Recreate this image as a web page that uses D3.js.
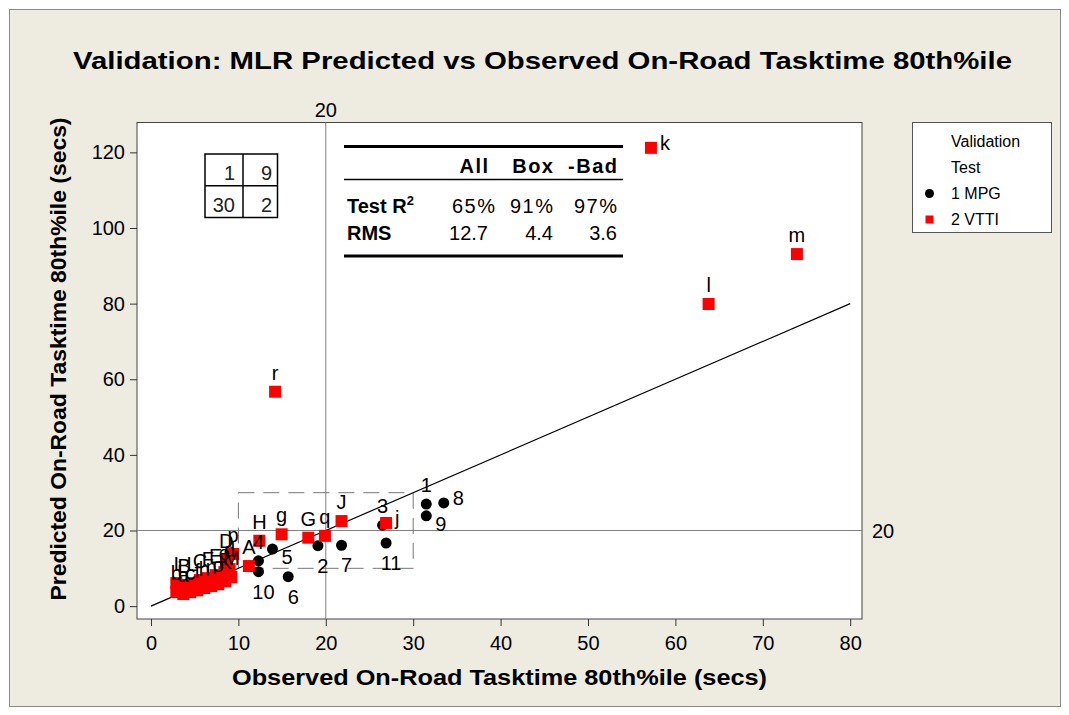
<!DOCTYPE html>
<meta charset="utf-8">
<style>
body { margin: 0; background: #fff; }
svg text { font-family: "Liberation Sans", Arial, sans-serif; fill: #000; }
.axis path.domain { display: none; }
.axis line { stroke: #333; }
.axis text { font-size: 20px; }
</style>
<svg width="1069" height="715"></svg>
<script src="https://d3js.org/d3.v7.min.js"></script>
<script>

// 1 MPG points (black circles)
var mpgLabels    = ["1", "2", "3", "4", "5", "6", "7", "8", "9", "10", "11"];
var mpgObserved  = [31.5, 19.1, 26.5, 12.3, 13.9, 15.7, 21.8, 33.5, 31.5, 12.3, 26.9];
var mpgPredicted = [27.0, 16.0, 21.4, 12.0, 15.1, 7.8, 16.1, 27.3, 23.9, 9.1, 16.7];

// 2 VTTI points (red squares)
var vttiLabels    = ["A", "B", "C", "D", "E", "F", "G", "H", "I", "J", "K", "L", "M",
                     "a", "b", "c", "d", "e", "f", "g", "h", "i", "j", "k", "l", "m", "n", "o", "p", "q", "r"];
var vttiObserved  = [11.2, 3.8, 5.6, 8.6, 7.4, 6.5, 18.0, 12.4, 2.9, 21.8, 8.5, 4.7, 9.2,
                     3.7, 2.9, 4.5, 9.0, 8.4, 5.3, 14.95, 6.1, 3.3, 26.9, 57.2, 63.8, 73.9, 6.9, 7.7, 9.4, 19.9, 14.2];
var vttiPredicted = [10.6, 5.6, 6.9, 12.2, 8.2, 7.4, 18.1, 17.3, 6.1, 22.5, 6.6, 6.1, 7.7,
                     3.2, 3.7, 3.7, 9.8, 9.0, 4.2, 19.0, 4.8, 4.8, 22.0, 121.2, 79.9, 93.1, 5.3, 5.8, 13.8, 18.6, 56.7];

// where the point label sits (a = above, r = right, br = below right, b = below)
var labelSide = { "1": "a", "2": "b", "3": "a", "4": "a", "5": "br", "6": "b", "7": "b",
                  "8": "r", "9": "br", "10": "b", "11": "b", "j": "r", "k": "r" };

var xTicks = [0, 10, 20, 30, 40, 50, 60, 70, 80];
var yTicks = [0, 20, 40, 60, 80, 100, 120];
var refValue = 20;
var boxRange = [10, 30];
var quadCounts = [[1, 9], [30, 2]];
var statCols = ["All", "Box", "-Bad"];
var statR2 = ["65%", "91%", "97%"];
var statRMS = ["12.7", "4.4", "3.6"];
var legendItems = ["1 MPG", "2 VTTI"];

var svg = d3.select("svg");

// page background and border
svg.append("rect").attr("x", 9.5).attr("y", 9.5).attr("width", 1051).attr("height", 697)
    .attr("fill", "#eeebe1").attr("stroke", "#8a8a8a");

var x = d3.scaleLinear().domain([-1.6, 81.35]).range([137, 862]);
var y = d3.scaleLinear().domain([-3.4, 127.9]).range([619, 122.5]);

// plot area
svg.append("rect").attr("x", 137).attr("y", 122.5).attr("width", 725).attr("height", 496.5)
    .attr("fill", "#fff").attr("stroke", "#444");

svg.append("g").attr("class", "axis").attr("transform", "translate(0,619)")
    .call(d3.axisBottom(x).tickValues(xTicks).tickSize(7).tickPadding(10));
svg.append("g").attr("class", "axis").attr("transform", "translate(137,0)")
    .call(d3.axisLeft(y).tickValues(yTicks).tickSize(7).tickPadding(5));

// reference lines at 20
svg.append("line").attr("x1", x(refValue)).attr("x2", x(refValue)).attr("y1", 122.5).attr("y2", 619)
    .attr("stroke", "#808080");
svg.append("line").attr("x1", 137).attr("x2", 862).attr("y1", y(refValue)).attr("y2", y(refValue))
    .attr("stroke", "#808080");
svg.append("text").attr("x", x(refValue)).attr("y", 117).attr("text-anchor", "middle")
    .style("font-size", "20px").text(refValue);
svg.append("text").attr("x", 872).attr("y", y(refValue) + 7)
    .style("font-size", "20px").text(refValue);

// dashed box 10..30
svg.append("rect").attr("x", x(boxRange[0])).attr("y", y(boxRange[1]))
    .attr("width", x(boxRange[1]) - x(boxRange[0])).attr("height", y(boxRange[0]) - y(boxRange[1]))
    .attr("fill", "none").attr("stroke", "#777").attr("stroke-dasharray", "16,9");

// y = x line
svg.append("line").attr("x1", x(0)).attr("y1", y(0)).attr("x2", x(80)).attr("y2", y(80))
    .attr("stroke", "#000").attr("stroke-width", 1.2);

var mpg = mpgLabels.map(function(l, i) { return { label: l, ox: mpgObserved[i], py: mpgPredicted[i] }; });
var vtti = vttiLabels.map(function(l, i) { return { label: l, ox: vttiObserved[i], py: vttiPredicted[i] }; });

svg.append("g").selectAll("circle").data(mpg).enter().append("circle")
    .attr("cx", function(d) { return x(d.ox); })
    .attr("cy", function(d) { return y(d.py); })
    .attr("r", 5.5).attr("fill", "#000");

svg.append("g").selectAll("rect").data(vtti).enter().append("rect")
    .attr("x", function(d) { return x(d.ox) - 6; })
    .attr("y", function(d) { return y(d.py) - 6; })
    .attr("width", 12).attr("height", 12).attr("fill", "#ff0000");

var sides = {
  a:  { anchor: "middle", dx: 0, dy: -12 },
  r:  { anchor: "start",  dx: 9, dy: 2 },
  br: { anchor: "start",  dx: 9, dy: 15 },
  b:  { anchor: "middle", dx: 5, dy: 27 }
};
svg.append("g").selectAll("text").data(mpg.concat(vtti)).enter().append("text")
    .each(function(d) {
      var s = sides[labelSide[d.label] || "a"];
      d3.select(this).attr("x", x(d.ox) + s.dx).attr("y", y(d.py) + s.dy).attr("text-anchor", s.anchor);
    })
    .style("font-size", "20px")
    .text(function(d) { return d.label; });

// quadrant count box
var qb = svg.append("g");
qb.append("rect").attr("x", 205).attr("y", 154).attr("width", 72.5).attr("height", 63.5)
    .attr("fill", "#fff").attr("stroke", "#000").attr("stroke-width", 1.5);
qb.append("line").attr("x1", 243).attr("x2", 243).attr("y1", 154).attr("y2", 217.5).attr("stroke", "#000").attr("stroke-width", 1.5);
qb.append("line").attr("x1", 205).attr("x2", 277.5).attr("y1", 185.7).attr("y2", 185.7).attr("stroke", "#000").attr("stroke-width", 1.5);
quadCounts.forEach(function(row, r) {
  row.forEach(function(v, c) {
    qb.append("text").attr("x", c ? 272 : 235).attr("y", r ? 211.5 : 180)
      .attr("text-anchor", "end").style("font-size", "20px").style("fill", "#222").text(v);
  });
});

// statistics table
var tb = svg.append("g");
var colRight = [488, 553, 617];
tb.append("line").attr("x1", 344).attr("x2", 623).attr("y1", 146.5).attr("y2", 146.5).attr("stroke", "#000").attr("stroke-width", 3);
tb.append("line").attr("x1", 344).attr("x2", 623).attr("y1", 179.5).attr("y2", 179.5).attr("stroke", "#000").attr("stroke-width", 1.5);
tb.append("line").attr("x1", 344).attr("x2", 623).attr("y1", 256).attr("y2", 256).attr("stroke", "#000").attr("stroke-width", 3);
statCols.forEach(function(c, i) {
  tb.append("text").attr("x", colRight[i] + 1.5).attr("y", 172.5).attr("text-anchor", "end")
    .style("font-size", "20px").style("font-weight", "bold").style("letter-spacing", "1.5px").text(c);
});
var r2 = tb.append("text").attr("x", 347).attr("y", 213).style("font-size", "20px").style("font-weight", "bold");
r2.append("tspan").text("Test R");
r2.append("tspan").attr("dy", -8).style("font-size", "13px").text("2");
tb.append("text").attr("x", 347).attr("y", 240).style("font-size", "20px").style("font-weight", "bold").text("RMS");
statR2.forEach(function(v, i) {
  tb.append("text").attr("x", colRight[i] + (i === 0 ? 7 : 0) + 1.5).attr("y", 213).attr("text-anchor", "end")
    .style("font-size", "20px").style("letter-spacing", "1.5px").text(v);
});
statRMS.forEach(function(v, i) {
  tb.append("text").attr("x", colRight[i]).attr("y", 240).attr("text-anchor", "end")
    .style("font-size", "20px").text(v);
});

// legend
var lg = svg.append("g");
lg.append("rect").attr("x", 912.5).attr("y", 122.5).attr("width", 139).attr("height", 110)
    .attr("fill", "#fff").attr("stroke", "#555");
lg.append("text").attr("x", 951).attr("y", 146.5).style("font-size", "16px").text("Validation");
lg.append("text").attr("x", 951).attr("y", 173).style("font-size", "16px").text("Test");
lg.append("circle").attr("cx", 929.5).attr("cy", 193.5).attr("r", 4.5).attr("fill", "#000");
lg.append("rect").attr("x", 925.5).attr("y", 215.5).attr("width", 8).attr("height", 8).attr("fill", "#ff0000");
legendItems.forEach(function(t, i) {
  lg.append("text").attr("x", 951).attr("y", 199 + i * 25.5).style("font-size", "16px").text(t);
});

// titles
svg.append("text").attr("x", 542.5).attr("y", 69).attr("text-anchor", "middle")
    .attr("textLength", 939).attr("lengthAdjust", "spacingAndGlyphs")
    .style("font-size", "24px").style("font-weight", "bold")
    .text("Validation: MLR Predicted vs Observed On-Road Tasktime 80th%ile");
svg.append("text").attr("x", 499.5).attr("y", 685).attr("text-anchor", "middle")
    .attr("textLength", 535).attr("lengthAdjust", "spacingAndGlyphs")
    .style("font-size", "22px").style("font-weight", "bold")
    .text("Observed On-Road Tasktime 80th%ile (secs)");
svg.append("text").attr("transform", "translate(66,359) rotate(-90)").attr("text-anchor", "middle")
    .attr("textLength", 483).attr("lengthAdjust", "spacingAndGlyphs")
    .style("font-size", "22px").style("font-weight", "bold")
    .text("Predicted On-Road Tasktime 80th%ile (secs)");

</script>
